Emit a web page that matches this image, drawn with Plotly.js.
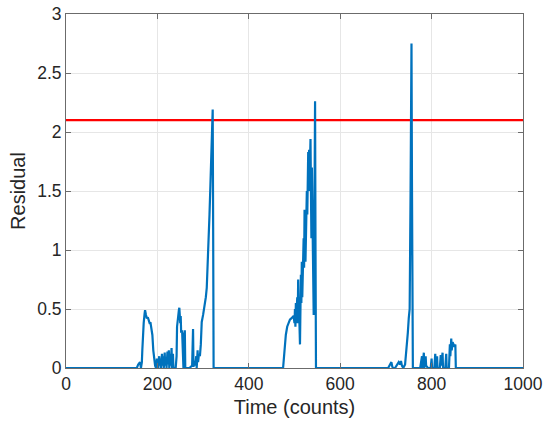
<!DOCTYPE html>
<html>
<head>
<meta charset="utf-8">
<script src="https://cdn.plot.ly/plotly-3.0.1.min.js"></script>
<style>
  body { margin: 0; background: #fff; }
  #chart { width: 550px; height: 430px; }
</style>
</head>
<body>
<div id="chart"></div>
<script>
// residual signal (time in counts)
const time = [
  0, 155, 158, 160, 162, 164, 166, 167, 168, 170, 172, 173, 175, 177, 179, 181, 183, 185, 187, 189, 191, 193, 195,
  197, 199, 200, 202, 204, 205, 207, 208, 210, 211, 213, 214, 216, 217, 219, 220, 222, 223, 225, 226, 228, 229, 231,
  232, 234, 235, 240, 242, 243, 245, 247, 248, 249, 250, 251, 252, 254, 256, 257, 258, 259, 260, 261, 270, 276, 278,
  279, 281, 283, 285, 286, 288, 289, 291, 293, 295, 297, 300, 303, 306, 308, 310, 312, 314, 316, 318, 320, 321, 322, 323,
  475, 477, 479, 481, 484, 487, 490, 493, 496, 498, 500, 501, 502, 503, 504, 506, 507, 508, 509, 510, 512, 513, 514,
  515, 516, 517, 519, 520, 521, 522, 523, 524, 525, 526, 527, 528, 530, 531, 532, 533, 534, 535, 536, 537, 538, 539,
  540, 541, 542, 543, 544, 545, 546, 547,
  705, 710, 712, 714, 716, 720, 725, 728, 731, 733, 735, 738, 742, 745, 748, 750, 752, 754, 755, 756, 757, 758, 759,
  775, 779, 780, 783, 784, 787, 788, 792, 798, 800, 801, 806, 808, 809, 812, 813, 818, 820, 821, 824, 825, 830, 832,
  833, 838, 840, 841, 843, 844, 846, 848, 850, 852, 853, 1000
];
const residual = [
  0, 0, 0.03, 0.04, 0.05, 0.0, 0.05, 0.15, 0.25, 0.38, 0.46, 0.49, 0.45, 0.42, 0.43, 0.40, 0.38, 0.38, 0.33, 0.28, 0.15, 0.05, 0.02,
  0.0, 0.08, 0.02, 0.0, 0.1, 0.02, 0.08, 0.0, 0.12, 0.02, 0.1, 0.0, 0.13, 0.02, 0.09, 0.0, 0.14, 0.03, 0.15, 0.0, 0.12, 0.02, 0.17,
  0.0, 0.12, 0.0, 0.0, 0.1, 0.35, 0.45, 0.49, 0.51, 0.45, 0.38, 0.44, 0.3, 0.32, 0.0, 0.0, 0.3, 0.05, 0.32, 0.0, 0.0, 0.02, 0.33,
  0.01, 0.06, 0.02, 0.1, 0.0, 0.15, 0.05, 0.12, 0.1, 0.2, 0.39, 0.45, 0.52, 0.6, 0.68, 0.85, 1.05, 1.3, 1.55, 1.8, 2.02, 2.19, 1.2, 0.0,
  0.0, 0.1, 0.2, 0.28, 0.35, 0.39, 0.41, 0.42, 0.43, 0.44, 0.38, 0.5, 0.35, 0.55, 0.4, 0.6, 0.38, 0.75, 0.45, 0.5, 0.2, 0.7, 0.79,
  0.55, 0.9, 0.6, 0.89, 1.1, 0.85, 1.34, 1.2, 0.9, 1.25, 1.1, 1.5, 1.3, 1.83, 1.7, 1.85, 1.5, 1.75, 1.94, 1.5, 1.1, 1.7, 1.3,
  0.8, 1.0, 0.45, 0.9, 1.6, 2.26, 1.0, 0.0,
  0.0, 0.04, 0.05, 0.01, 0.0, 0.0, 0.03, 0.05, 0.03, 0.06, 0.02, 0.0, 0.03, 0.15, 0.3, 0.42, 0.5, 1.5, 2.5, 2.75, 1.6, 0.3, 0.0,
  0.0, 0.1, 0.0, 0.13, 0.0, 0.1, 0.02, 0.0, 0.0, 0.08, 0.0, 0.0, 0.12, 0.0, 0.1, 0.0, 0.0, 0.11, 0.02, 0.13, 0.0, 0.0, 0.12,
  0.0, 0.0, 0.2, 0.1, 0.25, 0.15, 0.22, 0.2, 0.18, 0.2, 0.0, 0.0
];
const thresholdX = [0, 1000];
const thresholdY = [2.1, 2.1];
const xTicks = [0, 200, 400, 600, 800, 1000];
const yTicks = [0, 0.5, 1, 1.5, 2, 2.5, 3];
const yTickText = ['0', '0.5', '1', '1.5', '2', '2.5', '3'];

const font = 'Liberation Sans, Arial, Helvetica, sans-serif';

const threshold = {
  x: thresholdX,
  y: thresholdY,
  mode: 'lines',
  line: { color: '#ff0000', width: 2.2 },
  hoverinfo: 'skip'
};

const signal = {
  x: time,
  y: residual,
  mode: 'lines',
  line: { color: '#0072bd', width: 2.2 },
};

const axisCommon = {
  showline: true,
  linecolor: '#6b6b6b',
  linewidth: 1,
  mirror: 'ticks',
  ticks: 'inside',
  ticklen: 5,
  tickcolor: '#6b6b6b',
  showgrid: true,
  gridcolor: '#e6e6e6',
  gridwidth: 1,
  zeroline: false,
  tickfont: { family: font, size: 17.5, color: '#262626' }
};

const layout = {
  width: 550,
  height: 430,
  margin: { l: 66, r: 27, t: 14, b: 62 },
  paper_bgcolor: '#ffffff',
  plot_bgcolor: '#ffffff',
  showlegend: false,
  xaxis: Object.assign({}, axisCommon, {
    range: [0, 1000],
    tickvals: xTicks,
    title: { text: 'Time (counts)', font: { family: font, size: 20, color: '#262626' }, standoff: 6 }
  }),
  yaxis: Object.assign({}, axisCommon, {
    range: [0, 3],
    tickvals: yTicks,
    ticktext: yTickText,
    title: { text: 'Residual', font: { family: font, size: 20, color: '#262626' }, standoff: 6 }
  })
};

Plotly.newPlot('chart', [threshold, signal], layout, { staticPlot: true, displayModeBar: false });
</script>
</body>
</html>
